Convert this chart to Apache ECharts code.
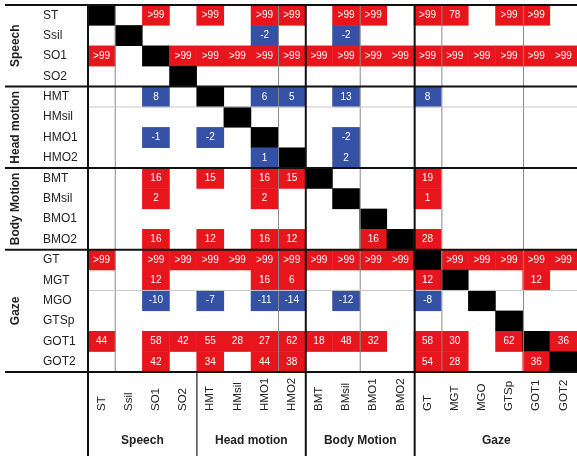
<!DOCTYPE html>
<html><head><meta charset="utf-8">
<script src="https://cdn.jsdelivr.net/npm/echarts@6/dist/echarts.min.js"></script>
<style>html,body{margin:0;padding:0;background:#fff}#c{width:577px;height:461px}</style>
</head><body><div id="c"></div>
<script>
const labels = ['ST','Ssil','SO1','SO2','HMT','HMsil','HMO1','HMO2','BMT','BMsil','BMO1','BMO2','GT','MGT','MGO','GTSp','GOT1','GOT2'];
const groupNames = ['Speech','Head motion','Body Motion','Gaze'];
const groupSizes = [4,4,4,6];
// d = diagonal, r = red, b = blue, . = empty
const cellSign = [
  "d.r.r.rr.rr.rr.rr.",
  ".d....b..b........",
  "r.drrrrrrrrrrrrrrr",
  "...d..............",
  "..b.d.bb.b..b.....",
  ".....d............",
  "..b.b.d..b........",
  "......bd.b........",
  "..r.r.rrd...r.....",
  "..r...r..d..r.....",
  "..........d.......",
  "..r.r.rr..rdr.....",
  "r.rrrrrrrrrrdrrrrr",
  "..r...rr....rd..r.",
  "..b.b.bb.b..b.d...",
  "...............d..",
  "r.rrrrrrrrr.rr.rdr",
  "..r.r.rr....rr..rd"
];
const G = '>99';
const cellText = [
  ['','',G,'',G,'',G,G,'',G,G,'',G,'78','',G,G,''],
  ['','','','','','','-2','','','-2','','','','','','','',''],
  [G,'','',G,G,G,G,G,G,G,G,G,G,G,G,G,G,G],
  ['','','','','','','','','','','','','','','','','',''],
  ['','','8','','','','6','5','','13','','','8','','','','',''],
  ['','','','','','','','','','','','','','','','','',''],
  ['','','-1','','-2','','','','','-2','','','','','','','',''],
  ['','','','','','','1','','','2','','','','','','','',''],
  ['','','16','','15','','16','15','','','','','19','','','','',''],
  ['','','2','','','','2','','','','','','1','','','','',''],
  ['','','','','','','','','','','','','','','','','',''],
  ['','','16','','12','','16','12','','','16','','28','','','','',''],
  [G,'',G,G,G,G,G,G,G,G,G,G,'',G,G,G,G,G],
  ['','','12','','','','16','6','','','','','12','','','','12',''],
  ['','','-10','','-7','','-11','-14','','-12','','','-8','','','','',''],
  ['','','','','','','','','','','','','','','','','',''],
  ['44','','58','42','55','28','27','62','18','48','32','','58','30','','62','','36'],
  ['','','42','','34','','44','38','','','','','54','28','','','36','']
];

const signCode = {d: 2, r: 1, b: -1};
const data = [];
cellSign.forEach((row, yi) => {
  for (let xi = 0; xi < row.length; xi++) {
    const ch = row[xi];
    if (ch === '.') continue;
    data.push({value: [xi, yi, signCode[ch]], text: cellText[yi][xi]});
  }
});

const FONT = "'Liberation Sans', Arial, Helvetica, sans-serif";
const gl = 88, gt = 5, gw = 490, gh = 367;
const cw = gw / 18, rh = gh / 18;

const graphics = [];
function line(x1, y1, x2, y2, w, c) {
  graphics.push({type: 'line', z: 100, shape: {x1, y1, x2, y2}, style: {stroke: c, lineWidth: w}});
}
// group boundaries
const bounds = [0];
groupSizes.forEach(s => bounds.push(bounds[bounds.length - 1] + s));
// thin interior lines
[1, 7, 10, 13, 16].forEach(i => line(gl + i * cw, gt, gl + i * cw, gt + gh, 1, '#8a8a8a'));
[5, 14].forEach(i => line(gl, gt + i * rh, 577, gt + i * rh, 1, '#c8c8c8'));
// thick horizontal lines
bounds.forEach(b => line(5, gt + b * rh, 577, gt + b * rh, 2, '#111'));
// thick vertical lines
[0, 8, 12].forEach(b => line(gl + b * cw, gt, gl + b * cw, 456, 2, '#111'));
line(gl + 4 * cw, gt + gh, gl + 4 * cw, 456, 1.3, '#333');
// group labels
groupNames.forEach((n, i) => {
  const mid = (bounds[i] + bounds[i + 1]) / 2;
  graphics.push({type: 'text', z: 100, x: gl + mid * cw, y: 441,
    style: {text: n, font: 'bold 12px ' + FONT, fill: '#222', textAlign: 'center', textVerticalAlign: 'middle'}});
  graphics.push({type: 'text', z: 100, x: 16, y: gt + mid * rh, rotation: Math.PI / 2,
    style: {text: n, font: 'bold 12px ' + FONT, fill: '#222', textAlign: 'center', textVerticalAlign: 'middle'}});
});

const chart = echarts.init(document.getElementById('c'), null, {renderer: 'canvas'});
chart.setOption({
  animation: false,
  backgroundColor: '#fff',
  grid: {left: gl, top: gt, width: gw, height: gh},
  xAxis: {type: 'category', data: labels, position: 'bottom',
    axisLine: {show: false}, axisTick: {show: false}, splitLine: {show: false},
    axisLabel: {rotate: 90, align: 'left', margin: 39, interval: 0, fontSize: 11.5, fontFamily: FONT, color: '#222'}},
  yAxis: {type: 'category', data: labels, inverse: true,
    axisLine: {show: false}, axisTick: {show: false}, splitLine: {show: false},
    axisLabel: {align: 'left', margin: 45, interval: 0, fontSize: 12, fontFamily: FONT, color: '#222'}},
  visualMap: {type: 'piecewise', show: false, dimension: 2,
    pieces: [{value: 2, color: '#000000'}, {value: 1, color: '#e8161c'}, {value: -1, color: '#3451a6'}]},
  series: [{type: 'heatmap', data: data,
    itemStyle: {borderWidth: 0},
    label: {show: true, color: '#fff', fontSize: 10, fontFamily: FONT,
      formatter: p => p.data.text || ''}}],
  graphic: graphics
});
</script></body></html>
